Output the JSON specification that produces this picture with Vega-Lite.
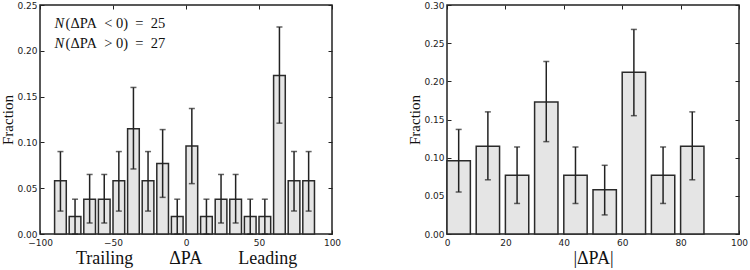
{
  "$schema": "https://vega.github.io/schema/vega-lite/v6.json",
  "padding": {"left": 0, "top": 0, "right": 0, "bottom": 0},
  "spacing": 65,
  "config": {
    "view": {"stroke": "#222", "strokeWidth": 1.5},
    "axis": {"domain": false, "grid": false, "tickSize": -4, "tickColor": "#222", "tickWidth": 1,
      "labelFont": "DejaVu Sans", "labelFontSize": 9, "labelColor": "#222", "labelFlush": false, "labelOverlap": false,
      "labelPadding": 7,
      "titleFont": "Liberation Serif", "titleFontWeight": "normal", "titleColor": "#111"},
    "axisBottom": {"labelPadding": 8}
  },
  "datasets": {
    "left": [
      {"x0": -90, "x1": -82, "xc": -86, "frac": 0.058, "lo": 0.025, "hi": 0.090},
      {"x0": -80, "x1": -72, "xc": -76, "frac": 0.019, "lo": 0.000, "hi": 0.038},
      {"x0": -70, "x1": -62, "xc": -66, "frac": 0.038, "lo": 0.012, "hi": 0.065},
      {"x0": -60, "x1": -52, "xc": -56, "frac": 0.038, "lo": 0.012, "hi": 0.065},
      {"x0": -50, "x1": -42, "xc": -46, "frac": 0.058, "lo": 0.025, "hi": 0.090},
      {"x0": -40, "x1": -32, "xc": -36, "frac": 0.115, "lo": 0.071, "hi": 0.160},
      {"x0": -30, "x1": -22, "xc": -26, "frac": 0.058, "lo": 0.025, "hi": 0.090},
      {"x0": -20, "x1": -12, "xc": -16, "frac": 0.077, "lo": 0.040, "hi": 0.114},
      {"x0": -10, "x1": -2, "xc": -6, "frac": 0.019, "lo": 0.000, "hi": 0.038},
      {"x0": 0, "x1": 8, "xc": 4, "frac": 0.096, "lo": 0.055, "hi": 0.137},
      {"x0": 10, "x1": 18, "xc": 14, "frac": 0.019, "lo": 0.000, "hi": 0.038},
      {"x0": 20, "x1": 28, "xc": 24, "frac": 0.038, "lo": 0.012, "hi": 0.065},
      {"x0": 30, "x1": 38, "xc": 34, "frac": 0.038, "lo": 0.012, "hi": 0.065},
      {"x0": 40, "x1": 48, "xc": 44, "frac": 0.019, "lo": 0.000, "hi": 0.038},
      {"x0": 50, "x1": 58, "xc": 54, "frac": 0.019, "lo": 0.000, "hi": 0.038},
      {"x0": 60, "x1": 68, "xc": 64, "frac": 0.173, "lo": 0.121, "hi": 0.226},
      {"x0": 70, "x1": 78, "xc": 74, "frac": 0.058, "lo": 0.025, "hi": 0.090},
      {"x0": 80, "x1": 88, "xc": 84, "frac": 0.058, "lo": 0.025, "hi": 0.090}
    ],
    "right": [
      {"x0": 0, "x1": 8, "xc": 4, "frac": 0.096, "lo": 0.055, "hi": 0.137},
      {"x0": 10, "x1": 18, "xc": 14, "frac": 0.115, "lo": 0.071, "hi": 0.160},
      {"x0": 20, "x1": 28, "xc": 24, "frac": 0.077, "lo": 0.040, "hi": 0.114},
      {"x0": 30, "x1": 38, "xc": 34, "frac": 0.173, "lo": 0.121, "hi": 0.226},
      {"x0": 40, "x1": 48, "xc": 44, "frac": 0.077, "lo": 0.040, "hi": 0.114},
      {"x0": 50, "x1": 58, "xc": 54, "frac": 0.058, "lo": 0.025, "hi": 0.090},
      {"x0": 60, "x1": 68, "xc": 64, "frac": 0.212, "lo": 0.155, "hi": 0.268},
      {"x0": 70, "x1": 78, "xc": 74, "frac": 0.077, "lo": 0.040, "hi": 0.114},
      {"x0": 80, "x1": 88, "xc": 84, "frac": 0.115, "lo": 0.071, "hi": 0.160}
    ],
    "notes": [
      {"x": -90, "y": 0.229, "label": "(ΔPA\u2002< 0)\u2002=\u200225"},
      {"x": -90, "y": 0.207, "label": "(ΔPA\u2002> 0)\u2002=\u200227"}
    ]
  },
  "hconcat": [
    {
      "width": 292, "height": 229,
      "resolve": {"axis": {"x": "independent", "y": "independent"}},
      "layer": [
        {
          "data": {"name": "left"},
          "mark": {"type": "bar", "fill": "#e5e5e5", "stroke": "#2a2a2a", "strokeWidth": 1.5},
          "encoding": {
            "x": {"field": "x0", "type": "quantitative", "scale": {"domain": [-100, 100], "nice": false, "zero": false},
              "axis": {"orient": "bottom", "values": [-100, -50, 0, 50, 100], "format": "d",
                "title": "Trailing\u2003\u2003ΔPA\u2003\u2003Leading", "titleFontSize": 18, "titlePadding": 2}},
            "x2": {"field": "x1"},
            "y": {"field": "frac", "type": "quantitative", "scale": {"domain": [0, 0.25], "nice": false},
              "axis": {"orient": "left", "values": [0, 0.05, 0.1, 0.15, 0.2, 0.25], "format": ".2f",
                "title": "Fraction", "titleFontSize": 15, "titlePadding": 1}},
            "y2": {"datum": 0}
          }
        },
        {
          "data": {"name": "left"},
          "mark": {"type": "errorbar", "ticks": {"size": 6, "thickness": 1.5, "color": "#222"}, "rule": {"strokeWidth": 1.5, "color": "#222"}},
          "encoding": {
            "x": {"field": "xc", "type": "quantitative", "axis": null},
            "y": {"field": "lo", "type": "quantitative", "axis": null},
            "y2": {"field": "hi"}
          }
        },
        {
          "data": {"name": "notes"},
          "mark": {"type": "text", "align": "left", "baseline": "middle", "font": "Liberation Serif", "fontSize": 14.5, "color": "#111", "dx": 11},
          "encoding": {
            "x": {"field": "x", "type": "quantitative",
              "axis": {"orient": "top", "values": [-100, -50, 0, 50, 100], "labels": false, "title": null}},
            "y": {"field": "y", "type": "quantitative",
              "axis": {"orient": "right", "values": [0, 0.05, 0.1, 0.15, 0.2, 0.25], "labels": false, "title": null}},
            "text": {"field": "label"}
          }
        },
        {
          "data": {"name": "notes"},
          "mark": {"type": "text", "align": "left", "baseline": "middle", "font": "Liberation Serif", "fontSize": 14.5, "fontStyle": "italic", "color": "#111"},
          "encoding": {
            "x": {"field": "x", "type": "quantitative", "axis": null},
            "y": {"field": "y", "type": "quantitative", "axis": null},
            "text": {"value": "N"}
          }
        }
      ]
    },
    {
      "width": 292, "height": 229,
      "resolve": {"axis": {"x": "independent", "y": "independent"}},
      "layer": [
        {
          "data": {"name": "right"},
          "mark": {"type": "bar", "fill": "#e5e5e5", "stroke": "#2a2a2a", "strokeWidth": 1.5},
          "encoding": {
            "x": {"field": "x0", "type": "quantitative", "scale": {"domain": [0, 100], "nice": false, "zero": false},
              "axis": {"orient": "bottom", "values": [0, 20, 40, 60, 80, 100], "format": "d",
                "title": "|ΔPA|", "titleFontSize": 18, "titlePadding": 2}},
            "x2": {"field": "x1"},
            "y": {"field": "frac", "type": "quantitative", "scale": {"domain": [0, 0.3], "nice": false},
              "axis": {"orient": "left", "values": [0, 0.05, 0.1, 0.15, 0.2, 0.25, 0.3], "format": ".2f",
                "title": "Fraction", "titleFontSize": 15, "titlePadding": 1}},
            "y2": {"datum": 0}
          }
        },
        {
          "data": {"name": "right"},
          "mark": {"type": "errorbar", "ticks": {"size": 6, "thickness": 1.5, "color": "#222"}, "rule": {"strokeWidth": 1.5, "color": "#222"}},
          "encoding": {
            "x": {"field": "xc", "type": "quantitative", "axis": null},
            "y": {"field": "lo", "type": "quantitative", "axis": null},
            "y2": {"field": "hi"}
          }
        },
        {
          "data": {"name": "right"},
          "mark": {"type": "point", "opacity": 0},
          "encoding": {
            "x": {"field": "xc", "type": "quantitative",
              "axis": {"orient": "top", "values": [0, 20, 40, 60, 80, 100], "labels": false, "title": null}},
            "y": {"field": "frac", "type": "quantitative",
              "axis": {"orient": "right", "values": [0, 0.05, 0.1, 0.15, 0.2, 0.25, 0.3], "labels": false, "title": null}}
          }
        }
      ]
    }
  ]
}
